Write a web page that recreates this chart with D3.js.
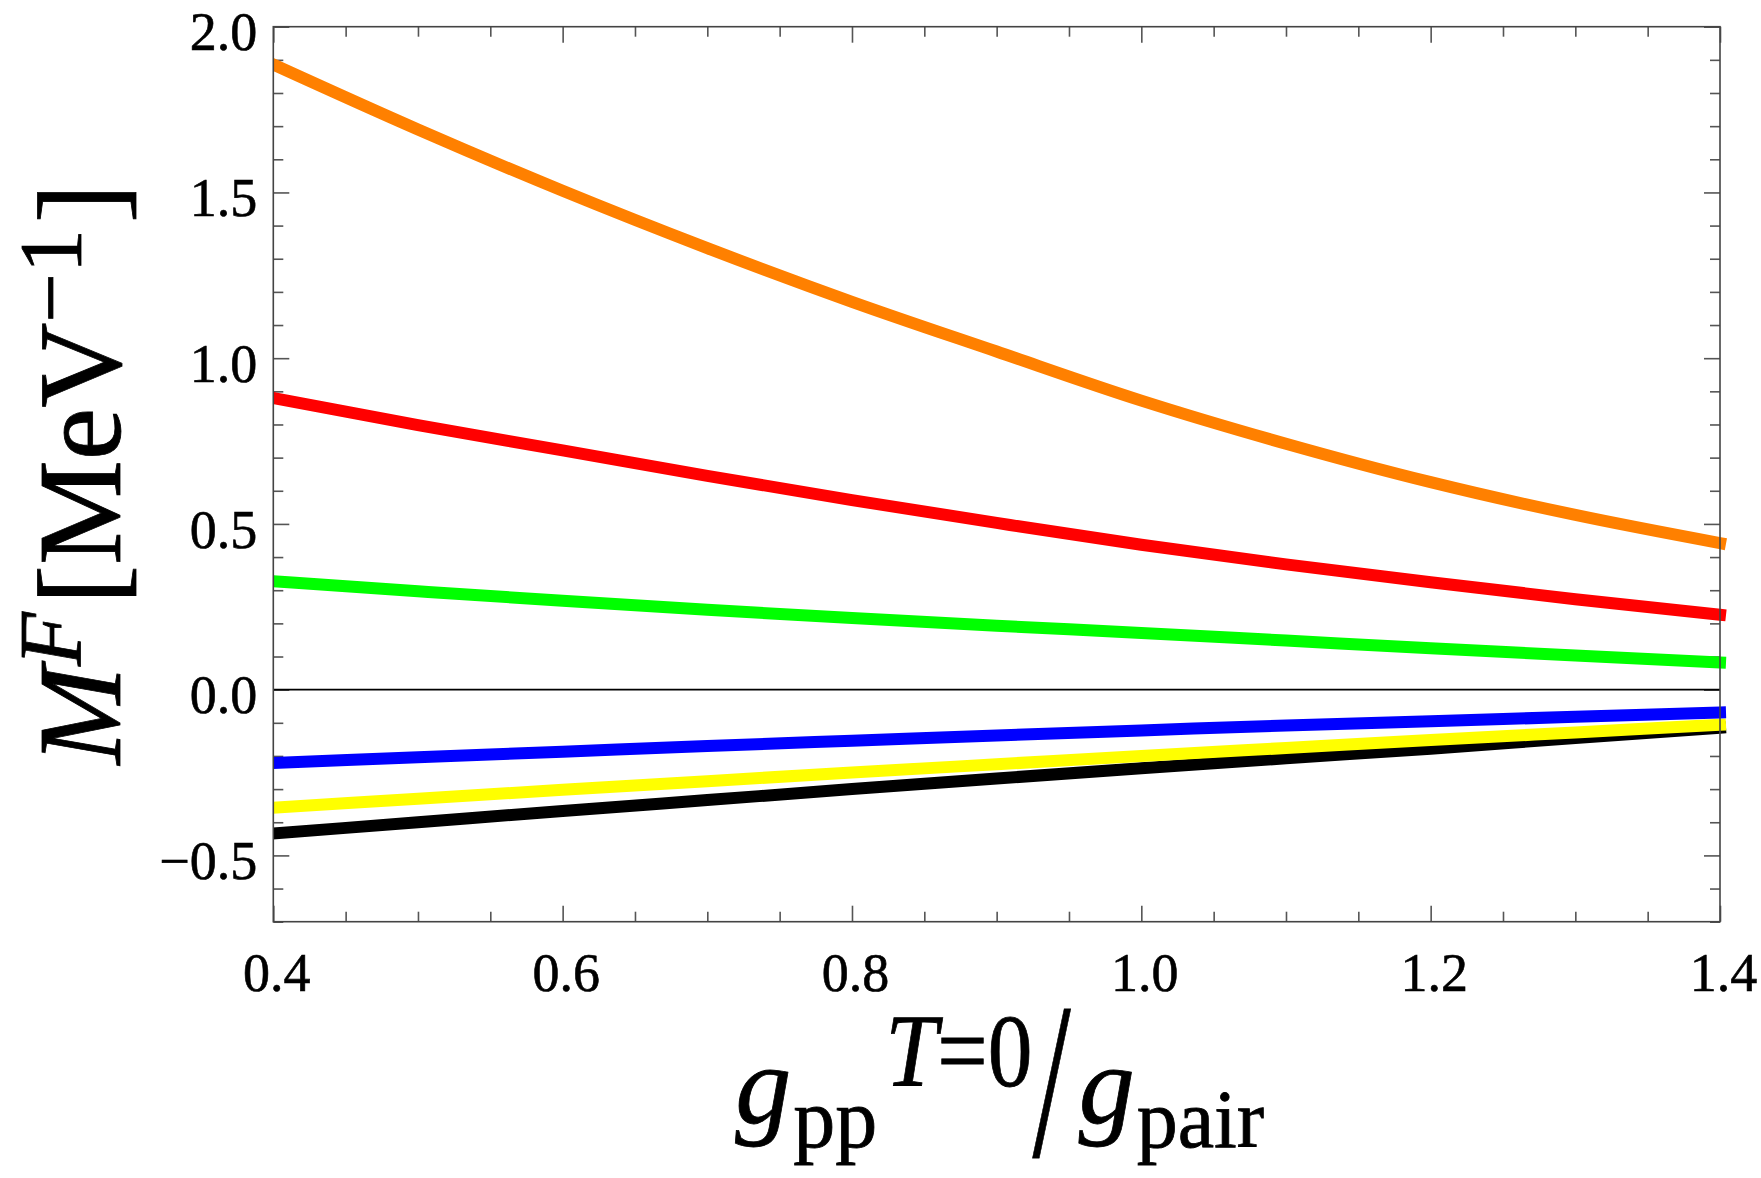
<!DOCTYPE html>
<html>
<head>
<meta charset="utf-8">
<script src="https://cdn.jsdelivr.net/npm/d3@7"></script>
<style>
  body { margin: 0; background: #fff; }
  svg { display: block; }
  .tick text { font-family: "Liberation Serif", "Times New Roman", serif; font-size: 54px; fill: #000; stroke: #000; stroke-width: 0.6px; }
  .lab text, text.lab { font-family: "Liberation Serif", "Times New Roman", serif; fill: #000; stroke: #000; stroke-width: 0.8px; }
</style>
</head>
<body>
<div id="graph"></div>
<script>
// coupling ratio g_pp^(T=0) / g_pair
var gRatio = [0.4, 0.5, 0.6, 0.7, 0.8, 0.9, 1.0, 1.1, 1.2, 1.3, 1.4];

// M^F values, one array per curve
var blackVals  = [-0.434, -0.400, -0.366, -0.333, -0.300, -0.268, -0.237, -0.207, -0.178, -0.146, -0.115];
var yellowVals = [-0.356, -0.329, -0.302, -0.276, -0.250, -0.225, -0.200, -0.176, -0.152, -0.129, -0.106];
var blueVals   = [-0.221, -0.204, -0.187, -0.170, -0.154, -0.138, -0.123, -0.108, -0.095, -0.082, -0.069];
var greenVals  = [0.327, 0.297, 0.268, 0.241, 0.216, 0.193, 0.171, 0.148, 0.125, 0.103, 0.082];
var redVals    = [0.880, 0.798, 0.722, 0.645, 0.572, 0.503, 0.437, 0.378, 0.324, 0.273, 0.226];
var orangeVals = [1.886, 1.690, 1.505, 1.332, 1.170, 1.020, 0.872, 0.742, 0.626, 0.527, 0.442];

var curves = [
  {color: "#000000", vals: blackVals},
  {color: "#FFFF00", vals: yellowVals},
  {color: "#0000FF", vals: blueVals},
  {color: "#00FF00", vals: greenVals},
  {color: "#FF0000", vals: redVals},
  {color: "#FF8000", vals: orangeVals}
];

// tick values
var xMajor = [0.4, 0.6, 0.8, 1.0, 1.2, 1.4];
var yMajor = [-0.5, 0.0, 0.5, 1.0, 1.5, 2.0];

var W = 1761, H = 1178;
var margin = {top: 26.7, right: 41, bottom: 256.3, left: 273.3};
var width = W - margin.left - margin.right;
var height = H - margin.top - margin.bottom;

var x = d3.scaleLinear().domain([0.4, 1.4]).range([0, width]);
var y = d3.scaleLinear().domain([-0.7, 2.0]).range([height, 0]);

var xMinor = d3.range(0.4, 1.4001, 0.05).map(function(d) { return +d.toFixed(2); })
  .filter(function(d) { return xMajor.indexOf(d) < 0; });
var yMinor = d3.range(-0.7, 2.0001, 0.1).map(function(d) { return +d.toFixed(1); })
  .filter(function(d) { return yMajor.indexOf(d) < 0; });

var root = d3.select("#graph").append("svg")
    .attr("width", W)
    .attr("height", H);
var svg = root.append("g")
    .attr("transform", "translate(" + margin.left + "," + margin.top + ")");

var fmt = d3.format(".1f");
var tickColor = "#555";

function styleAxis(g) {
  g.select(".domain").remove();
  g.selectAll(".tick line").attr("stroke", tickColor).attr("stroke-width", 1.6);
}

// bottom / top ticks
svg.append("g").attr("transform", "translate(0," + height + ")")
  .call(d3.axisBottom(x).tickValues(xMinor).tickSize(-10).tickFormat(""))
  .call(styleAxis);
svg.append("g").attr("transform", "translate(0," + height + ")")
  .call(d3.axisBottom(x).tickValues(xMajor).tickSize(-16).tickPadding(31).tickFormat(fmt))
  .call(styleAxis)
  .selectAll("text").attr("dx", "3");
svg.append("g")
  .call(d3.axisTop(x).tickValues(xMinor).tickSize(-10).tickFormat(""))
  .call(styleAxis);
svg.append("g")
  .call(d3.axisTop(x).tickValues(xMajor).tickSize(-16).tickFormat(""))
  .call(styleAxis);

// left / right ticks
svg.append("g")
  .call(d3.axisLeft(y).tickValues(yMinor).tickSize(-10).tickFormat(""))
  .call(styleAxis);
svg.append("g")
  .call(d3.axisLeft(y).tickValues(yMajor).tickSize(-16).tickPadding(16).tickFormat(fmt))
  .call(styleAxis)
  .selectAll("text").attr("dy", "0.43em");
svg.append("g").attr("transform", "translate(" + width + ",0)")
  .call(d3.axisRight(y).tickValues(yMinor).tickSize(-10).tickFormat(""))
  .call(styleAxis);
svg.append("g").attr("transform", "translate(" + width + ",0)")
  .call(d3.axisRight(y).tickValues(yMajor).tickSize(-16).tickFormat(""))
  .call(styleAxis);

// zero line
svg.append("line")
  .attr("x1", 0).attr("x2", width)
  .attr("y1", y(0)).attr("y2", y(0))
  .attr("stroke", "#000").attr("stroke-width", 1.6);

// clip: cut at left frame, let the square caps poke out on the right
svg.append("clipPath").attr("id", "clip")
  .append("rect").attr("x", 0).attr("y", -20).attr("width", width + 12).attr("height", height + 40);

var line = d3.line()
  .x(function(d, i) { return x(gRatio[i]); })
  .y(function(d) { return y(d); })
  .curve(d3.curveMonotoneX);

svg.append("g").attr("clip-path", "url(#clip)")
  .selectAll("path")
  .data(curves)
  .enter().append("path")
    .attr("fill", "none")
    .attr("stroke", function(d) { return d.color; })
    .attr("stroke-width", 12)
    .attr("stroke-linecap", "square")
    .attr("d", function(d) { return line(d.vals); });

// frame
svg.append("rect")
  .attr("x", 0).attr("y", 0).attr("width", width).attr("height", height)
  .attr("fill", "none").attr("stroke", "#444").attr("stroke-width", 1.6);

// x axis label, laid out piece by piece (sub/superscripts, tall slash)
var xlab = root.append("g").attr("class", "lab");
var pieces = [
  {t: "g",    size: 112, italic: true, base: 1123, gap: 0},
  {t: "pp",   size: 84,  base: 1147, gap: 2},
  {t: "T",    size: 104, italic: true, base: 1086, gap: 8, sx: 0.9},
  {t: "=0",   size: 104, base: 1086, gap: 0, sx: 0.86},
  {t: "/",    size: 222, base: 1156, gap: 0, sx: 0.62},
  {t: "g",    size: 112, italic: true, base: 1123, gap: 8},
  {t: "pair", size: 82,  base: 1147, gap: 2}
];
var cx = 0;
pieces.forEach(function(p) {
  var sx = p.sx || 1;
  var t = xlab.append("text")
    .style("font-size", p.size + "px")
    .style("font-style", p.italic ? "italic" : "normal")
    .text(p.t);
  var w = t.node().getComputedTextLength() * sx;
  cx += p.gap;
  t.attr("transform", "translate(" + cx + "," + p.base + ") scale(" + sx + ",1)");
  cx += w;
});
xlab.attr("transform", "translate(" + (margin.left + width / 2 + 3 - cx / 2) + ",0)");

// y axis label
var yl = root.append("text").attr("class", "lab")
  .attr("transform", "translate(120,474) rotate(-90)")
  .attr("text-anchor", "middle")
  .style("font-size", "118px");
yl.append("tspan").style("font-style", "italic").text("M");
yl.append("tspan").attr("dy", -40).style("font-size", "88px").style("font-style", "italic").text("F");
yl.append("tspan").attr("dy", 40).attr("dx", 8).text("[MeV");
yl.append("tspan").attr("dy", -40).style("font-size", "88px").text("\u22121");
yl.append("tspan").attr("dy", 40).attr("dx", 6).text("]");
</script>
</body>
</html>
